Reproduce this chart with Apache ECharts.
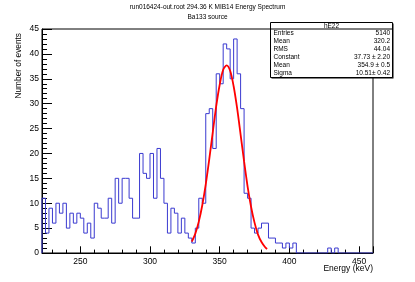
<!DOCTYPE html>
<html><head><meta charset="utf-8">
<script src="https://cdn.jsdelivr.net/npm/echarts@6/dist/echarts.min.js"></script>
<style>html,body{margin:0;padding:0;background:#fff}#c{width:415px;height:282px}</style>
</head><body><div id="c"></div>
<script>
// Histogram definition (2.5 keV bins from 222.5 to 460 keV)
const binLow = 222.5;
const binWidth = 2.5;
const xMin = 222.5;
const xMax = 460;
const yMin = 0;
const yMax = 45;
// Bin contents
const counts = [
  11, 4, 9, 6, 10, 8, 10, 5, 8, 6, 8, 7, 4, 6, 3, 10, 9, 7, 7, 11, 6,
  15, 10, 15, 15, 11, 7, 7, 20, 16, 15, 20, 11, 21, 15,
  10, 4, 9, 8, 4, 7, 4, 3, 2, 5, 11, 10,
  28, 29, 21, 36, 34, 42, 41, 35, 43, 36, 29, 12, 11,
  5, 4, 5, 6, 6, 3, 3, 2, 2, 1, 2, 1, 2,
  0, 0, 0, 0, 0, 0, 0, 0, 0,
  1, 0, 1,
  0, 0, 0, 0, 0, 0, 0, 0, 0, 0
];
// Fit curve (energy, events)
const fitX = [330, 332.5, 335, 337.5, 340, 342.5, 345, 347.5, 350, 352.5, 355, 357.5, 360, 362.5, 365, 367.5, 370, 372.5, 375, 377.5, 380, 382.5, 384];
const fitY = [2.3, 3.9, 6.3, 9.6, 13.8, 18.8, 24.2, 29.5, 33.8, 36.8, 37.7, 36.6, 33.5, 29.1, 23.8, 18.4, 13.4, 9.3, 6.1, 3.7, 2.2, 1.2, 0.8];

const titleLine1 = 'run016424-out.root 294.36 K MIB14 Energy Spectrum';
const titleLine2 = 'Ba133 source';
const xName = 'Energy (keV)';
const yName = 'Number of events';
const statsName = 'hE22';
const statLabels = ['Entries', 'Mean', 'RMS', 'Constant', 'Mean', 'Sigma'];
const statValues = ['5140', '320.2', '44.04', '37.73 \u00b1 2.20', '354.9 \u00b1 0.5', '10.51\u00b1 0.42'];

const FF = '"Liberation Sans", Arial, Helvetica, sans-serif';

// step data: left edge of each bin + closing right edge
const histData = [[binLow, 0]];
counts.forEach((c, i) => histData.push([binLow + i * binWidth, c]));
histData.push([binLow + counts.length * binWidth, counts[counts.length - 1]]);
const fitData = fitX.map((x, i) => [x, fitY[i]]);

const chart = echarts.init(document.getElementById('c'), null, {renderer: 'canvas'});

const box = {x: 270.5, y: 22.5, w: 122, h: 55};
const headerH = 6.5;
const rowH = (box.h - headerH) / statLabels.length;
const gEls = [
  {type: 'rect', z: 99, shape: {x: box.x + 1, y: box.y + 1, width: box.w, height: box.h}, style: {fill: '#000'}},
  {type: 'rect', z: 100, shape: {x: box.x, y: box.y, width: box.w, height: box.h}, style: {fill: '#fff', stroke: '#000', lineWidth: 1}},
  {type: 'line', z: 101, shape: {x1: box.x, y1: box.y + headerH, x2: box.x + box.w, y2: box.y + headerH}, style: {stroke: '#000', lineWidth: 1}},
  {type: 'text', z: 101, x: box.x + box.w / 2, y: box.y + headerH / 2 + 0.3, style: {text: statsName, fontSize: 6.5, fontFamily: FF, fill: '#000', align: 'center', verticalAlign: 'middle'}},
  {type: 'text', z: 101, rotation: Math.PI / 2, x: 19, y: 33, style: {text: yName, fontSize: 8.3, fontFamily: FF, fill: '#000', align: 'right', verticalAlign: 'middle'}},
  {type: 'text', z: 101, x: 373, y: 269, style: {text: xName, fontSize: 8.5, fontFamily: FF, fill: '#000', align: 'right', verticalAlign: 'middle'}}
];
statLabels.forEach((lab, i) => {
  const yy = box.y + headerH + rowH * (i + 0.5);
  gEls.push({type: 'text', z: 101, x: box.x + 3, y: yy, style: {text: lab, fontSize: 6.5, fontFamily: FF, fill: '#000', align: 'left', verticalAlign: 'middle'}});
  gEls.push({type: 'text', z: 101, x: box.x + box.w - 2.5, y: yy, style: {text: statValues[i], fontSize: 6.5, fontFamily: FF, fill: '#000', align: 'right', verticalAlign: 'middle'}});
});

chart.setOption({
  animation: false,
  backgroundColor: '#fff',
  title: [
    {text: titleLine1, left: 'center', top: 3.5, padding: 0, textStyle: {fontSize: 6.5, fontWeight: 'normal', fontFamily: FF, color: '#000'}},
    {text: titleLine2, left: 'center', top: 13.5, padding: 0, textStyle: {fontSize: 6.5, fontWeight: 'normal', fontFamily: FF, color: '#000'}}
  ],
  grid: {left: 42, right: 42, top: 29, bottom: 29, containLabel: false, outerBoundsMode: 'none',
         show: true, borderColor: '#000', borderWidth: 1, backgroundColor: 'transparent'},
  xAxis: {
    type: 'value', min: xMin, max: xMax, splitNumber: 5, minInterval: 50, maxInterval: 50,
    axisLine: {show: true, onZero: false, lineStyle: {color: '#000', width: 1}},
    axisTick: {show: true, inside: true, length: 6.7, lineStyle: {color: '#000', width: 1}},
    minorTick: {show: true, splitNumber: 5, length: 3.4, lineStyle: {color: '#000', width: 1}},
    axisLabel: {show: true, margin: 4, fontSize: 8.5, color: '#000', fontFamily: FF, showMinLabel: false, showMaxLabel: false},
    splitLine: {show: false}, minorSplitLine: {show: false}
  },
  yAxis: {
    type: 'value', min: yMin, max: yMax, interval: 5,
    axisLine: {show: true, onZero: false, lineStyle: {color: '#000', width: 1}},
    axisTick: {show: true, inside: true, length: 10, lineStyle: {color: '#000', width: 1}},
    minorTick: {show: true, splitNumber: 5, length: 5, lineStyle: {color: '#000', width: 1}},
    axisLabel: {show: true, margin: 3, fontSize: 8.5, color: '#000', fontFamily: FF},
    splitLine: {show: false}, minorSplitLine: {show: false}
  },
  graphic: {elements: gEls},
  series: [
    {type: 'line', step: 'end', data: histData, symbol: 'none', clip: true,
     lineStyle: {color: '#3a3ad0', width: 1}, z: 2},
    {type: 'line', smooth: 0.3, data: fitData, symbol: 'none', clip: true,
     lineStyle: {color: '#ff0000', width: 1.8}, z: 3}
  ]
});
</script>
</body></html>
